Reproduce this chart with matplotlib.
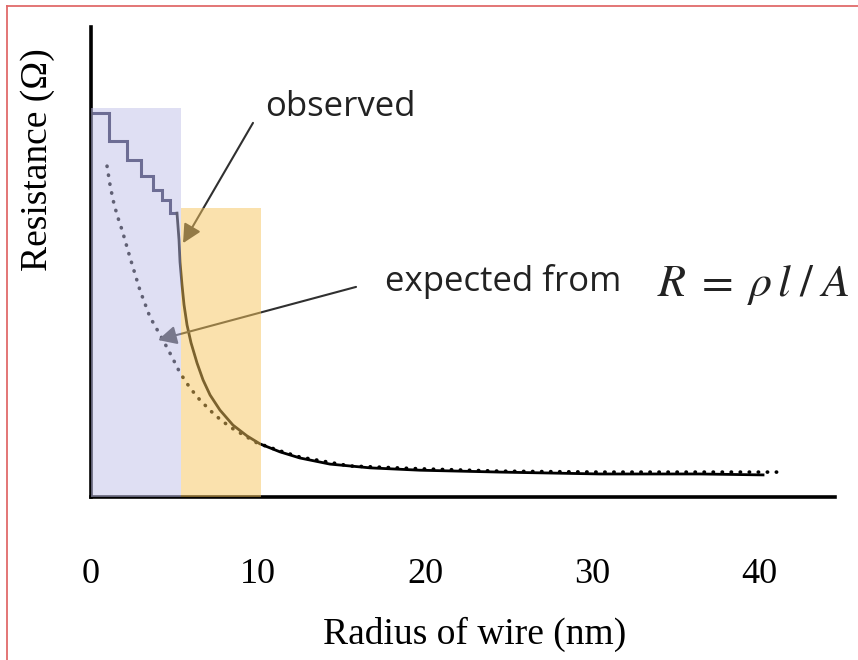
import matplotlib as mpl
mpl.use("Agg")
import matplotlib.pyplot as plt
from matplotlib.lines import Line2D
from matplotlib.patches import Rectangle

mpl.rcParams.update({"mathtext.fontset": "stix"})

# staircase part of the observed resistance (quantised region)
stair_edges = [0, 1.08, 2.16, 2.99, 3.71, 4.25, 4.73, 5.15]
stair_levels = [8.18, 7.58, 7.17, 6.83, 6.53, 6.32, 6.04]

# observed curve after the staircase
obs_r = [5.15, 5.27, 5.33, 5.45, 5.57, 5.75, 5.99, 6.35, 6.71, 7.13, 7.72, 8.50,
         9.34, 10.12, 11.32, 12.51, 14.31, 16.71, 19.70, 24.49, 30.48, 36.47, 40.24]
obs_R = [6.04, 5.47, 5.00, 4.51, 4.09, 3.66, 3.28, 2.85, 2.49, 2.17, 1.85, 1.53,
         1.30, 1.13, 0.96, 0.83, 0.70, 0.62, 0.57, 0.53, 0.49, 0.49, 0.47]

# expected from R = rho l / A
exp_r = [0.96, 1.14, 1.32, 1.56, 1.86, 2.34, 2.93, 3.53, 4.31, 4.85, 5.33, 5.93,
         6.53, 7.43, 8.32, 9.94, 11.32, 12.51, 15.51, 19.70, 24.49, 30.48, 36.47, 41.38]
exp_R = [7.04, 6.64, 6.32, 6.00, 5.68, 5.09, 4.40, 3.83, 3.34, 2.98, 2.64, 2.32,
         2.06, 1.74, 1.49, 1.15, 0.98, 0.85, 0.66, 0.60, 0.55, 0.53, 0.53, 0.53]

# shaded regions: (x0, x1, top)
blue_band = (0, 5.39, 8.28)
orange_band = (5.39, 10.18, 6.15)

xticks = [0, 10, 20, 30, 40]

fig = plt.figure(figsize=(8.58, 6.6), dpi=100)
ax = fig.add_axes([91/858, 1-497/660, (835-91)/858, 470/660])
ax.set_xlim(0, 44.55); ax.set_ylim(0, 10)

ax.stairs(stair_levels, stair_edges, baseline=None, color="#1a1a40", lw=2.2, zorder=2)
ax.plot(obs_r, obs_R, color="black", lw=2.0, zorder=2)
ax.plot(exp_r, exp_R, color="black", lw=2.6, ls=(0, (0.1, 2.4)),
        dash_capstyle="round", zorder=2)

ap = dict(arrowstyle="-|>", color="#303030", lw=1.5, mutation_scale=28,
          shrinkA=0, shrinkB=0)
ax.annotate("", xy=(5.51, 5.40), xytext=(9.70, 7.96), arrowprops=ap, zorder=2)
ax.annotate("", xy=(4.01, 3.34), xytext=(15.87, 4.47), arrowprops=ap, zorder=2)

for (x0, x1, top), col in [(blue_band, "#c1c1e9"), (orange_band, "#f7c55d")]:
    ax.add_patch(Rectangle((x0, 0), x1-x0, top, facecolor=col, alpha=0.5,
                           lw=0, zorder=3))

ax.text(10.4, 8.3, "observed", family="Open Sans", fontsize=25, color="#222",
        ha="left", va="center", zorder=5)
ax.text(17.6, 4.58, "expected from", family="Open Sans", fontsize=25, color="#222",
        ha="left", va="center", zorder=5)
ax.text(33.9, 4.52, r"$R\;=\;\rho\,l\;/\;A$", fontsize=33, color="#222",
        ha="left", va="center", zorder=5)

for s in ["top", "right"]:
    ax.spines[s].set_visible(False)
for s in ["left", "bottom"]:
    ax.spines[s].set_linewidth(2.6)
ax.set_yticks([])
ax.set_xticks(xticks)
ax.set_xticklabels([str(t) for t in xticks], family="Liberation Serif", fontsize=26)
ax.tick_params(axis="x", length=0, pad=44)
ax.set_xlabel("Radius of wire (nm)", family="Liberation Serif", fontsize=27)
ax.xaxis.set_label_coords(0.515, -0.255)
ax.set_ylabel("Resistance (\u03a9)", family="Liberation Serif", fontsize=27)
ax.yaxis.set_label_coords(-0.048, 0.717)

# red frame of the original slide
fig.add_artist(Line2D([7/858, 7/858], [0, 1-6/660], color="#e06a6a", lw=1.3))
fig.add_artist(Line2D([7/858, 1], [1-6/660, 1-6/660], color="#e06a6a", lw=1.3))

fig.savefig("out.png", dpi=100)
